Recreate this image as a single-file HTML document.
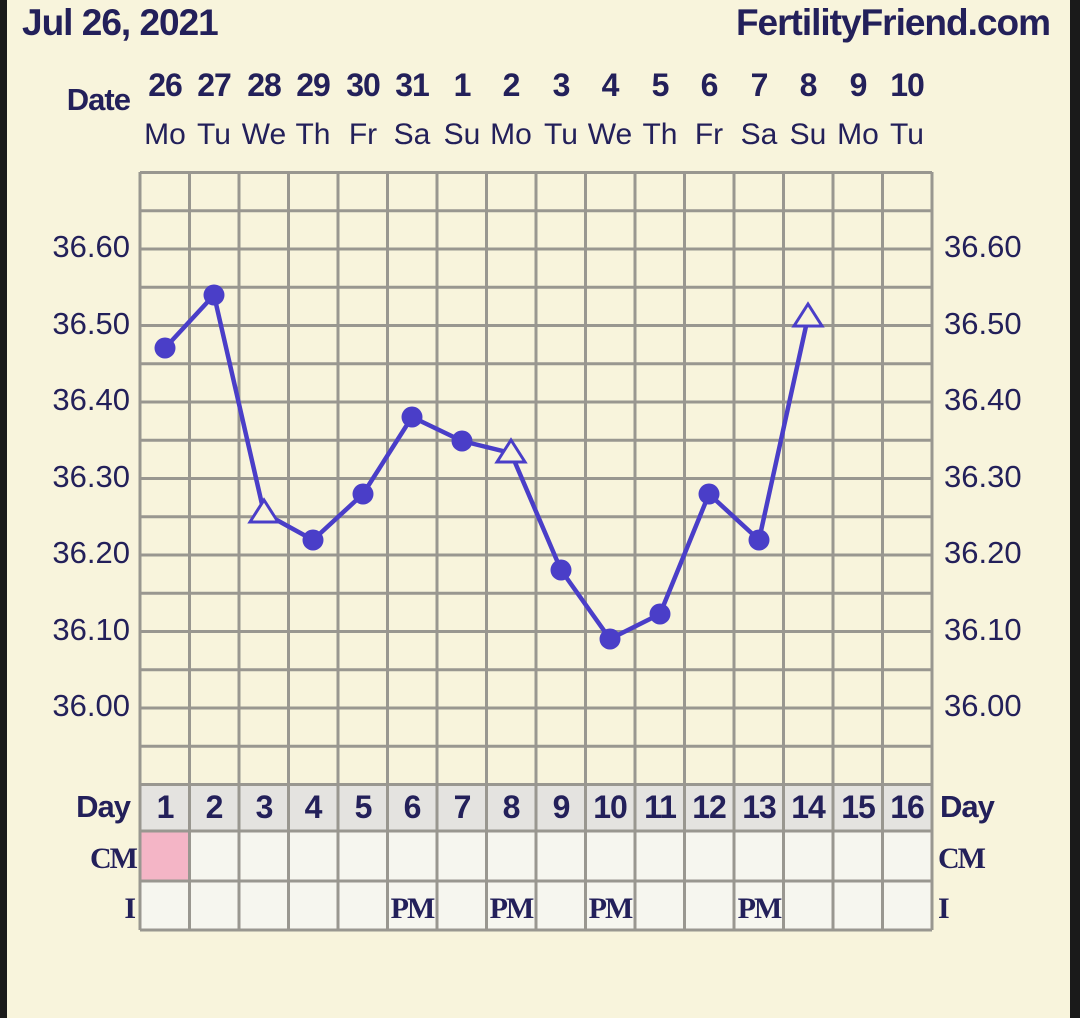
<!DOCTYPE html>
<html><head><meta charset="utf-8"><style>
html,body{margin:0;padding:0;background:#f8f4dc;}
svg{display:block}
text{font-family:"Liberation Sans",sans-serif;fill:#23205a}
.b,.b text{font-weight:bold}
.s,.s text{font-family:"Liberation Serif",serif;font-weight:bold}
</style></head><body>
<svg width="1080" height="1018" xmlns="http://www.w3.org/2000/svg">
<rect width="1080" height="1018" fill="#f8f4dc"/>
<rect x="0" y="0" width="7" height="1018" fill="#1a1a1a"/>
<rect x="1070" y="0" width="10" height="1018" fill="#1a1a1a"/>
<text x="22" y="35" class="b" font-size="37" letter-spacing="-1">Jul 26, 2021</text>
<text x="1050" y="35" class="b" font-size="37" letter-spacing="-1" text-anchor="end">FertilityFriend.com</text>
<text x="130" y="110" class="b" font-size="31" letter-spacing="-1" text-anchor="end">Date</text>
<g class="b" font-size="32" text-anchor="middle" letter-spacing="-1">
<text x="165" y="96">26</text><text x="214" y="96">27</text><text x="264" y="96">28</text><text x="313" y="96">29</text><text x="363" y="96">30</text><text x="412" y="96">31</text><text x="462" y="96">1</text><text x="511" y="96">2</text><text x="561" y="96">3</text><text x="610" y="96">4</text><text x="660" y="96">5</text><text x="709" y="96">6</text><text x="759" y="96">7</text><text x="808" y="96">8</text><text x="858" y="96">9</text><text x="907" y="96">10</text>
</g>
<g font-size="30" text-anchor="middle">
<text x="165" y="144">Mo</text><text x="214" y="144">Tu</text><text x="264" y="144">We</text><text x="313" y="144">Th</text><text x="363" y="144">Fr</text><text x="412" y="144">Sa</text><text x="462" y="144">Su</text><text x="511" y="144">Mo</text><text x="561" y="144">Tu</text><text x="610" y="144">We</text><text x="660" y="144">Th</text><text x="709" y="144">Fr</text><text x="759" y="144">Sa</text><text x="808" y="144">Su</text><text x="858" y="144">Mo</text><text x="907" y="144">Tu</text>
</g>
<rect x="140" y="784" width="792" height="47" fill="#e4e3e0"/>
<rect x="140" y="831" width="792" height="99" fill="#f6f6ef"/>
<rect x="140" y="831" width="49.5" height="50" fill="#f4b5c6"/>
<g stroke="#999790" stroke-width="3" fill="none">
<path d="M140 172.5H932M140 210.75H932M140 249H932M140 287.25H932M140 325.5H932M140 363.75H932M140 402H932M140 440.25H932M140 478.5H932M140 516.75H932M140 555H932M140 593.25H932M140 631.5H932M140 669.75H932M140 708H932M140 746.25H932M140 784.5H932M140 831H932M140 881H932M140 930H932"/>
<path d="M140 172V930M189.5 172V930M239 172V930M288.5 172V930M338 172V930M387.5 172V930M437 172V930M486.5 172V930M536 172V930M585.5 172V930M635 172V930M684.5 172V930M734 172V930M783.5 172V930M833 172V930M882.5 172V930M932 172V930"/>
</g>
<g font-size="31">
<text x="130" y="257" text-anchor="end">36.60</text><text x="130" y="334" text-anchor="end">36.50</text><text x="130" y="410" text-anchor="end">36.40</text><text x="130" y="487" text-anchor="end">36.30</text><text x="130" y="563" text-anchor="end">36.20</text><text x="130" y="640" text-anchor="end">36.10</text><text x="130" y="716" text-anchor="end">36.00</text>
<text x="944" y="257">36.60</text><text x="944" y="334">36.50</text><text x="944" y="410">36.40</text><text x="944" y="487">36.30</text><text x="944" y="563">36.20</text><text x="944" y="640">36.10</text><text x="944" y="716">36.00</text>
</g>
<text x="130" y="817" class="b" font-size="31" letter-spacing="-1" text-anchor="end">Day</text>
<text x="940" y="817" class="b" font-size="31" letter-spacing="-1">Day</text>
<g class="b" font-size="32" text-anchor="middle" letter-spacing="-1">
<text x="165" y="818">1</text><text x="214" y="818">2</text><text x="264" y="818">3</text><text x="313" y="818">4</text><text x="363" y="818">5</text><text x="412" y="818">6</text><text x="462" y="818">7</text><text x="511" y="818">8</text><text x="561" y="818">9</text><text x="610" y="818">10</text><text x="660" y="818">11</text><text x="709" y="818">12</text><text x="759" y="818">13</text><text x="808" y="818">14</text><text x="858" y="818">15</text><text x="907" y="818">16</text>
</g>
<text x="136" y="868" class="s" font-size="30" letter-spacing="-2" text-anchor="end">CM</text>
<text x="938" y="868" class="s" font-size="30" letter-spacing="-2">CM</text>
<text x="136" y="918" class="s" font-size="30" text-anchor="end">I</text>
<text x="938" y="918" class="s" font-size="30">I</text>
<g class="s" font-size="30" text-anchor="middle" letter-spacing="-2">
<text x="412" y="918">PM</text><text x="511" y="918">PM</text><text x="610" y="918">PM</text><text x="759" y="918">PM</text>
</g>
<polyline fill="none" stroke="#4a3ec8" stroke-width="4.5" stroke-linejoin="round"
points="165,348 214,295 264,513 313,540 363,494 412,417 462,441 511,453 561,570 610,639 660,614 709,494 759,540 808,317"/>
<g fill="#4a3ec8">
<circle cx="165" cy="348" r="10.5"/><circle cx="214" cy="295" r="10.5"/><circle cx="313" cy="540" r="10.5"/><circle cx="363" cy="494" r="10.5"/><circle cx="412" cy="417" r="10.5"/><circle cx="462" cy="441" r="10.5"/><circle cx="561" cy="570" r="10.5"/><circle cx="610" cy="639" r="10.5"/><circle cx="660" cy="614" r="10.5"/><circle cx="709" cy="494" r="10.5"/><circle cx="759" cy="540" r="10.5"/>
</g>
<g fill="#f8f4dc" stroke="#4a3ec8" stroke-width="3">
<polygon points="264,500 250,522 278,522"/>
<polygon points="511,440 497,462 525,462"/>
<polygon points="808,304 794,326 822,326"/>
</g>
</svg>
</body></html>
